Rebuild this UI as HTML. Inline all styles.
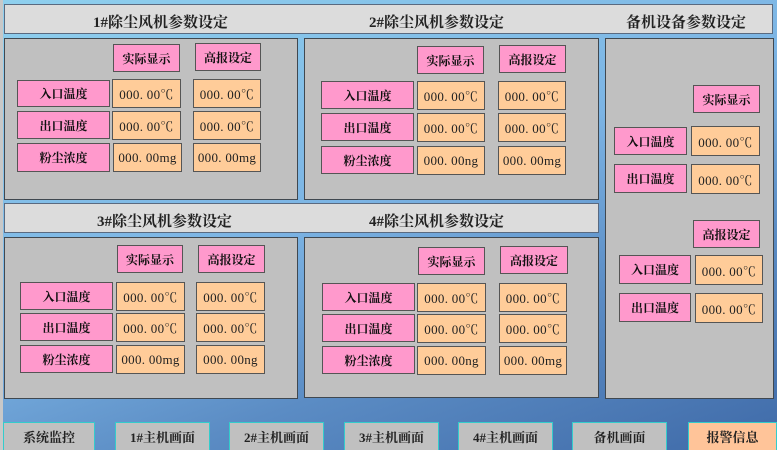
<!DOCTYPE html>
<html><head><meta charset="utf-8"><style>
*{margin:0;padding:0;box-sizing:border-box}
body{width:777px;height:455px;overflow:hidden;background:#fff;position:relative;font-family:"Liberation Serif","Noto Serif CJK SC",serif}
#bg{position:absolute;left:0;top:0;width:777px;height:450px;background:linear-gradient(160deg,#8fd0ee 0%,#7cb4e4 45%,#5b8cc4 70%,#3f6aa8 100%);border-left:3px solid #c8c8c8}
.a{position:absolute}
.bar{background:#dcdcdc;border:1px solid #5a6a80;font-weight:bold;font-size:15px;color:#222}
.pan{background:#c0c0c0;border:1px solid #404850}
.p{background:#ff99cc;border:1px solid #555;font-weight:bold;font-size:12px;color:#111;display:flex;align-items:center;justify-content:center}
.o{background:#ffcc99;border:1px solid #555;font-size:13px;color:#222;display:flex;align-items:center;justify-content:center;white-space:pre;letter-spacing:0.3px}
.btn{background:#c0c0c0;border-top:1px solid #3cc;border-left:1px solid #3cc;border-right:1px solid #3cc;font-weight:bold;font-size:13px;color:#222;display:flex;align-items:center;justify-content:center}
.t{position:absolute;top:6px}
</style></head><body>
<div id="bg"></div>
<div class="a bar" style="left:4px;top:4px;width:769px;height:30px">
<span class="t" style="left:88px">1#除尘风机参数设定</span>
<span class="t" style="left:364px">2#除尘风机参数设定</span>
<span class="t" style="left:621px">备机设备参数设定</span></div>
<div class="a bar" style="left:4px;top:203px;width:595px;height:30px">
<span class="t" style="left:92px">3#除尘风机参数设定</span>
<span class="t" style="left:364px">4#除尘风机参数设定</span></div>
<div class="a pan" style="left:4px;top:38px;width:294px;height:162px"></div>
<div class="a pan" style="left:304px;top:38px;width:295px;height:162px"></div>
<div class="a pan" style="left:4px;top:237px;width:294px;height:162px"></div>
<div class="a pan" style="left:304px;top:237px;width:295px;height:161px"></div>
<div class="a pan" style="left:605px;top:38px;width:169px;height:361px"></div>

<div class="a p" style="left:113px;top:44px;width:67px;height:28px">实际显示</div>
<div class="a p" style="left:195px;top:43px;width:66px;height:28px">高报设定</div>
<div class="a p" style="left:17px;top:80px;width:93px;height:27px">入口温度</div>
<div class="a p" style="left:17px;top:111px;width:93px;height:28px">出口温度</div>
<div class="a p" style="left:17px;top:143px;width:93px;height:29px">粉尘浓度</div>
<div class="a o" style="left:112px;top:79px;width:69px;height:29px">000. 00℃</div>
<div class="a o" style="left:193px;top:79px;width:68px;height:29px">000. 00℃</div>
<div class="a o" style="left:112px;top:111px;width:69px;height:29px">000. 00℃</div>
<div class="a o" style="left:193px;top:111px;width:68px;height:29px">000. 00℃</div>
<div class="a o" style="left:113px;top:143px;width:69px;height:29px">000. 00mg</div>
<div class="a o" style="left:193px;top:143px;width:68px;height:29px">000. 00mg</div>

<div class="a p" style="left:417px;top:46px;width:67px;height:28px">实际显示</div>
<div class="a p" style="left:499px;top:45px;width:67px;height:28px">高报设定</div>
<div class="a p" style="left:321px;top:81px;width:93px;height:28px">入口温度</div>
<div class="a p" style="left:321px;top:113px;width:93px;height:28px">出口温度</div>
<div class="a p" style="left:321px;top:146px;width:93px;height:28px">粉尘浓度</div>
<div class="a o" style="left:417px;top:81px;width:68px;height:29px">000. 00℃</div>
<div class="a o" style="left:498px;top:81px;width:68px;height:29px">000. 00℃</div>
<div class="a o" style="left:417px;top:113px;width:68px;height:29px">000. 00℃</div>
<div class="a o" style="left:498px;top:113px;width:68px;height:29px">000. 00℃</div>
<div class="a o" style="left:417px;top:146px;width:68px;height:29px">000. 00ng</div>
<div class="a o" style="left:498px;top:146px;width:68px;height:29px">000. 00mg</div>

<div class="a p" style="left:117px;top:245px;width:66px;height:28px">实际显示</div>
<div class="a p" style="left:198px;top:245px;width:67px;height:28px">高报设定</div>
<div class="a p" style="left:20px;top:282px;width:93px;height:28px">入口温度</div>
<div class="a p" style="left:20px;top:313px;width:93px;height:28px">出口温度</div>
<div class="a p" style="left:20px;top:345px;width:93px;height:28px">粉尘浓度</div>
<div class="a o" style="left:116px;top:282px;width:69px;height:29px">000. 00℃</div>
<div class="a o" style="left:196px;top:282px;width:69px;height:29px">000. 00℃</div>
<div class="a o" style="left:116px;top:313px;width:69px;height:29px">000. 00℃</div>
<div class="a o" style="left:196px;top:313px;width:69px;height:29px">000. 00℃</div>
<div class="a o" style="left:116px;top:345px;width:69px;height:29px">000. 00mg</div>
<div class="a o" style="left:196px;top:345px;width:69px;height:29px">000. 00ng</div>

<div class="a p" style="left:418px;top:247px;width:67px;height:28px">实际显示</div>
<div class="a p" style="left:500px;top:246px;width:68px;height:28px">高报设定</div>
<div class="a p" style="left:322px;top:283px;width:93px;height:28px">入口温度</div>
<div class="a p" style="left:322px;top:314px;width:93px;height:28px">出口温度</div>
<div class="a p" style="left:322px;top:346px;width:93px;height:28px">粉尘浓度</div>
<div class="a o" style="left:417px;top:283px;width:69px;height:29px">000. 00℃</div>
<div class="a o" style="left:499px;top:283px;width:68px;height:29px">000. 00℃</div>
<div class="a o" style="left:417px;top:314px;width:69px;height:29px">000. 00℃</div>
<div class="a o" style="left:499px;top:314px;width:68px;height:29px">000. 00℃</div>
<div class="a o" style="left:417px;top:346px;width:69px;height:29px">000. 00ng</div>
<div class="a o" style="left:499px;top:346px;width:68px;height:29px">000. 00mg</div>

<div class="a p" style="left:693px;top:85px;width:67px;height:28px">实际显示</div>
<div class="a p" style="left:614px;top:127px;width:73px;height:28px">入口温度</div>
<div class="a p" style="left:614px;top:164px;width:73px;height:29px">出口温度</div>
<div class="a o" style="left:691px;top:126px;width:69px;height:30px">000. 00℃</div>
<div class="a o" style="left:691px;top:164px;width:69px;height:30px">000. 00℃</div>
<div class="a p" style="left:693px;top:220px;width:67px;height:28px">高报设定</div>
<div class="a p" style="left:619px;top:255px;width:72px;height:29px">入口温度</div>
<div class="a p" style="left:619px;top:293px;width:72px;height:29px">出口温度</div>
<div class="a o" style="left:695px;top:255px;width:68px;height:30px">000. 00℃</div>
<div class="a o" style="left:695px;top:293px;width:68px;height:30px">000. 00℃</div>

<div class="a btn" style="left:3px;top:422px;width:92px;height:28px">系统监控</div>
<div class="a btn" style="left:115px;top:422px;width:95px;height:28px">1#主机画面</div>
<div class="a btn" style="left:229px;top:422px;width:95px;height:28px">2#主机画面</div>
<div class="a btn" style="left:344px;top:422px;width:95px;height:28px">3#主机画面</div>
<div class="a btn" style="left:458px;top:422px;width:95px;height:28px">4#主机画面</div>
<div class="a btn" style="left:572px;top:422px;width:95px;height:28px">备机画面</div>
<div class="a btn" style="left:688px;top:422px;width:89px;height:28px;background:#ffc499">报警信息</div>
</body></html>
